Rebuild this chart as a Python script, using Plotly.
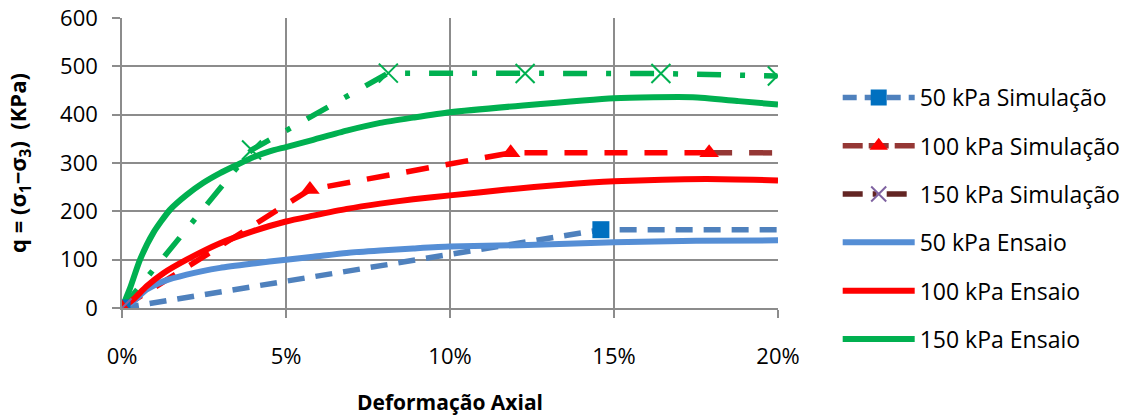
import plotly.graph_objects as go

# Axial strain (fraction) and deviator stress q (kPa)
strain_sim_50 = [0.0, 0.146, 0.200]
q_sim_50 = [0, 162, 162]

strain_sim_100 = [0.0, 0.0573, 0.1185, 0.179, 0.200]
q_sim_100 = [0, 245, 321, 321, 321]

strain_sim_150 = [0.0, 0.0395, 0.0812, 0.1229, 0.1643, 0.1998]
q_sim_150 = [0, 327, 486, 485, 485, 480]

strain_ens_50 = [0.0, 0.0035, 0.0075, 0.0126, 0.0197, 0.0299, 0.040, 0.050, 0.0583,
                 0.0685, 0.0787, 0.0888, 0.100, 0.1213, 0.150, 0.175, 0.200]
q_ens_50 = [0, 14, 38, 55, 69, 83, 92, 100, 106, 114, 119, 123, 127, 130, 136, 139, 140]

strain_ens_100 = [0.0, 0.0035, 0.0075, 0.0126, 0.0197, 0.0299, 0.040, 0.050, 0.0583,
                  0.0685, 0.0787, 0.0888, 0.100, 0.1173, 0.134, 0.150, 0.178, 0.200]
q_ens_100 = [0, 18, 45, 72, 100, 134, 159, 179, 191, 205, 216, 225, 233, 245, 255, 262, 267, 264]

strain_ens_150 = [0.0, 0.0024, 0.0055, 0.0095, 0.0146, 0.0197, 0.0248, 0.0299, 0.035,
                  0.040, 0.045, 0.050, 0.0583, 0.0685, 0.0787, 0.0888, 0.100, 0.1223,
                  0.150, 0.162, 0.174, 0.188, 0.200]
q_ens_150 = [0, 40, 100, 155, 203, 234, 259, 279, 296, 312, 324, 333, 348, 367, 383,
             394, 405, 419, 434, 436, 436, 428, 421]

x_ticks = [0.0, 0.05, 0.10, 0.15, 0.20]
y_ticks = [0, 100, 200, 300, 400, 500, 600]

legend_names = ["50 kPa Simulação", "100 kPa Simulação", "150 kPa Simulação",
                "50 kPa Ensaio", "100 kPa Ensaio", "150 kPa Ensaio"]

BLUE_LINE = "#4F81BD"
BLUE_MARK = "#0070C0"
BLUE_ENS = "#558ED5"
RED = "#FF0000"
BROWN = "#953735"
DARK_BROWN = "#632523"
PURPLE = "#8064A2"
GREEN = "#00B050"
GRID = "#8C8C8C"
FONT = "Open Sans"

DASH_50 = "17px,11px"
DASH_100 = "23px,17px"
DASH_150 = "24px,19px,5px,19px"
LW_SIM = 5.5
LW_ENS = 6

fig = go.Figure()

# --- simulation lines (bottom layer) ---
fig.add_trace(go.Scatter(
    x=strain_sim_50, y=q_sim_50, mode="lines", showlegend=False,
    line=dict(color=BLUE_LINE, width=LW_SIM, dash=DASH_50),
))
# 100 kPa: red up to the last marker, closing segment in the series colour
fig.add_trace(go.Scatter(
    x=strain_sim_100[-2:], y=q_sim_100[-2:], mode="lines", showlegend=False,
    line=dict(color=BROWN, width=LW_SIM, dash=DASH_100),
))
fig.add_trace(go.Scatter(
    x=strain_sim_100[:-1], y=q_sim_100[:-1], mode="lines", showlegend=False,
    line=dict(color=RED, width=LW_SIM, dash=DASH_100),
))
fig.add_trace(go.Scatter(
    x=strain_sim_150, y=q_sim_150, mode="lines", showlegend=False,
    line=dict(color=GREEN, width=LW_SIM, dash=DASH_150),
))

# --- laboratory test curves ---
for xs, ys, col in [(strain_ens_50, q_ens_50, BLUE_ENS),
                    (strain_ens_100, q_ens_100, RED),
                    (strain_ens_150, q_ens_150, GREEN)]:
    fig.add_trace(go.Scatter(
        x=xs, y=ys, mode="lines", showlegend=False,
        line=dict(color=col, width=LW_ENS, shape="spline", smoothing=0.6),
    ))

# --- simulation markers (top layer) ---
fig.add_trace(go.Scatter(
    x=strain_sim_50[:-1], y=q_sim_50[:-1], mode="markers", showlegend=False,
    marker=dict(symbol="square", color=BLUE_MARK, size=17),
))
fig.add_trace(go.Scatter(
    x=strain_sim_100[:-1], y=q_sim_100[:-1], mode="markers", showlegend=False,
    marker=dict(symbol="triangle-up", color=RED, size=17),
))
x_cols = [PURPLE if i == 0 else GREEN for i in range(len(strain_sim_150))]
fig.add_trace(go.Scatter(
    x=strain_sim_150, y=q_sim_150, mode="markers", showlegend=False,
    marker=dict(symbol="x-thin", size=19, color=x_cols,
                line=dict(width=2, color=x_cols)),
))

# --- legend entries ---
legend_styles = [
    dict(mode="lines+markers", line=dict(color=BLUE_LINE, width=LW_SIM, dash="14px,8px"),
         marker=dict(symbol="square", color=BLUE_MARK, size=16)),
    dict(mode="lines+markers", line=dict(color=BROWN, width=LW_SIM, dash="20px,6px"),
         marker=dict(symbol="triangle-up", color=RED, size=16)),
    dict(mode="lines+markers", line=dict(color=DARK_BROWN, width=LW_SIM,
                                         dash="20px,10px,4px,10px"),
         marker=dict(symbol="x-thin", size=15, color=PURPLE, line=dict(width=2, color=PURPLE))),
    dict(mode="lines", line=dict(color=BLUE_ENS, width=LW_ENS)),
    dict(mode="lines", line=dict(color=RED, width=LW_ENS)),
    dict(mode="lines", line=dict(color=GREEN, width=LW_ENS)),
]
for i, (name, st) in enumerate(zip(legend_names, legend_styles)):
    fig.add_trace(go.Scatter(x=[None], y=[None], name=name, legendgroup=f"g{i}",
                             showlegend=True, **st))

axis_common = dict(
    showgrid=True, gridcolor=GRID, gridwidth=1.5,
    showline=True, linecolor=GRID, linewidth=1.5,
    ticks="outside", ticklen=8, tickcolor=GRID, tickwidth=1.5,
    zeroline=False, automargin=False,
    tickfont=dict(family=FONT, size=22, color="#000000"),
)

fig.update_layout(
    width=1130, height=416,
    margin=dict(l=122, r=352, t=18, b=108, autoexpand=False),
    paper_bgcolor="white", plot_bgcolor="white",
    font=dict(family=FONT, color="#000000"),
    xaxis=dict(
        range=[0, 0.20], tickvals=x_ticks, tickformat=".0%",
        ticklabelstandoff=20,
        title=dict(text="<b>Deformação Axial</b>", standoff=35,
                   font=dict(family=FONT, size=21, color="#000000")),
        **axis_common,
    ),
    yaxis=dict(
        range=[0, 600], tickvals=y_ticks,
        ticklabelstandoff=10,
        title=dict(text="<b>q = (σ<sub>1</sub>−σ<sub>3</sub>)\u00a0\u00a0(KPa)</b>", standoff=27,
                   font=dict(family=FONT, size=22, color="#000000")),
        **axis_common,
    ),
    legend=dict(
        x=1.091, xanchor="left", y=0.80, yanchor="top",
        font=dict(family=FONT, size=23, color="#000000"),
        traceorder="grouped", tracegroupgap=15.4, itemwidth=72,
        bgcolor="rgba(0,0,0,0)",
    ),
)

fig.write_html("out.html")
